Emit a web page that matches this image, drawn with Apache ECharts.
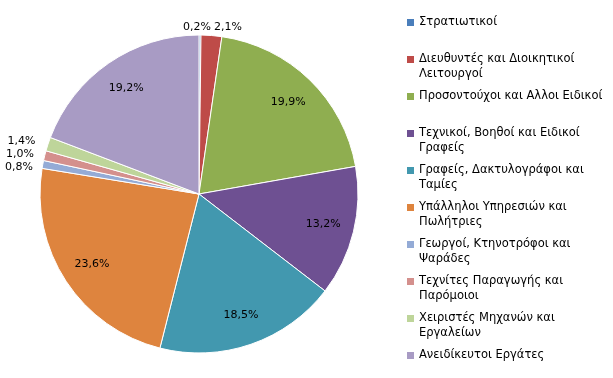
<!DOCTYPE html>
<html>
<head>
<meta charset="utf-8">
<script src="https://cdn.jsdelivr.net/npm/echarts@6/dist/echarts.min.js"></script>
<style>
  html, body { margin: 0; padding: 0; background: #fff; }
  #chart { width: 613px; height: 378px; }
</style>
</head>
<body>
<div id="chart"></div>
<script>
// ---------- DATA ----------
const categories = [
  'Στρατιωτικοί',
  'Διευθυντές και Διοικητικοί Λειτουργοί',
  'Προσοντούχοι και Αλλοι Ειδικοί',
  'Τεχνικοί, Βοηθοί και Ειδικοί Γραφείς',
  'Γραφείς, Δακτυλογράφοι και Ταμίες',
  'Υπάλληλοι Υπηρεσιών και Πωλήτριες',
  'Γεωργοί, Κτηνοτρόφοι και Ψαράδες',
  'Τεχνίτες Παραγωγής και Παρόμοιοι',
  'Χειριστές Μηχανών και Εργαλείων',
  'Ανειδίκευτοι Εργάτες'
];
const shares = [0.2, 2.1, 19.9, 13.2, 18.5, 23.6, 0.8, 1.0, 1.4, 19.2];
// legend text lines as they wrap in the original
const legendLines = [
  ['Στρατιωτικοί'],
  ['Διευθυντές και Διοικητικοί', 'Λειτουργοί'],
  ['Προσοντούχοι και Αλλοι Ειδικοί'],
  ['Τεχνικοί, Βοηθοί και Ειδικοί', 'Γραφείς'],
  ['Γραφείς, Δακτυλογράφοι και', 'Ταμίες'],
  ['Υπάλληλοι Υπηρεσιών και', 'Πωλήτριες'],
  ['Γεωργοί, Κτηνοτρόφοι και', 'Ψαράδες'],
  ['Τεχνίτες Παραγωγής και', 'Παρόμοιοι'],
  ['Χειριστές Μηχανών και', 'Εργαλείων'],
  ['Ανειδίκευτοι Εργάτες']
];

const colors = ['#4A7EBB', '#BE4B48', '#8FAE50', '#6E5092', '#4298AF',
                '#DE843E', '#94ABD6', '#D4908D', '#BED59A', '#A89BC4'];

const FONT = 'DejaVu Sans';
const pieCenter = [199, 194];
const pieRadius = 159;

function pct(p) {
  return p.value.toFixed(1).replace('.', ',') + '%';
}

// blank line on top so the legend square sits on the first text line
function legendLabel(name) {
  const lines = legendLines[categories.indexOf(name)];
  return ' \n' + lines[0] + '\n' + (lines[1] || ' ');
}

let chart = echarts.init(document.getElementById('chart'));

// the two thin slices at the top get their labels side by side
let firstTopLabel = null;
function topLabelLayout(p) {
  if (p.dataIndex === 0) {
    firstTopLabel = p.labelRect;
    return { align: 'right', x: p.labelRect.x + 6 };
  }
  if (p.dataIndex === 1 && firstTopLabel) {
    return {
      x: firstTopLabel.x + 9,
      y: firstTopLabel.y + firstTopLabel.height / 2
    };
  }
}

let option = {
  animation: false,
  color: colors,
  legend: {
    orient: 'vertical',
    left: 407,
    top: 0,
    padding: 0,
    itemWidth: 7,
    itemHeight: 7,
    itemGap: -8,
    icon: 'rect',
    itemStyle: { borderWidth: 0 },
    textStyle: {
      fontFamily: FONT,
      fontSize: 11.5,
      lineHeight: 15,
      color: '#000'
    },
    formatter: legendLabel,
    data: categories
  },
  series: [
    {
      // the pie itself, small shares labelled outside
      type: 'pie',
      center: pieCenter,
      radius: pieRadius,
      startAngle: 90,
      clockwise: true,
      itemStyle: { borderColor: '#fff', borderWidth: 1 },
      emphasis: { disabled: true },
      label: {
        position: 'outside',
        overflow: 'none',
        fontFamily: FONT,
        fontSize: 11,
        color: '#000',
        formatter: pct
      },
      labelLine: { show: false, length: 8, length2: 0 },
      labelLayout: topLabelLayout,
      data: categories.map((name, i) => ({
        name: name,
        value: shares[i],
        label: { show: shares[i] < 5 }
      }))
    },
    {
      // transparent ring that only carries the inner labels
      type: 'pie',
      center: pieCenter,
      radius: [91, pieRadius],
      startAngle: 90,
      clockwise: true,
      silent: true,
      itemStyle: { color: 'transparent', borderWidth: 0 },
      emphasis: { disabled: true },
      label: {
        position: 'inside',
        fontFamily: FONT,
        fontSize: 11,
        color: '#000',
        formatter: pct
      },
      labelLine: { show: false },
      data: categories.map((name, i) => ({
        name: name,
        value: shares[i],
        label: { show: shares[i] >= 5 }
      }))
    }
  ]
};

chart.setOption(option);
</script>
</body>
</html>
